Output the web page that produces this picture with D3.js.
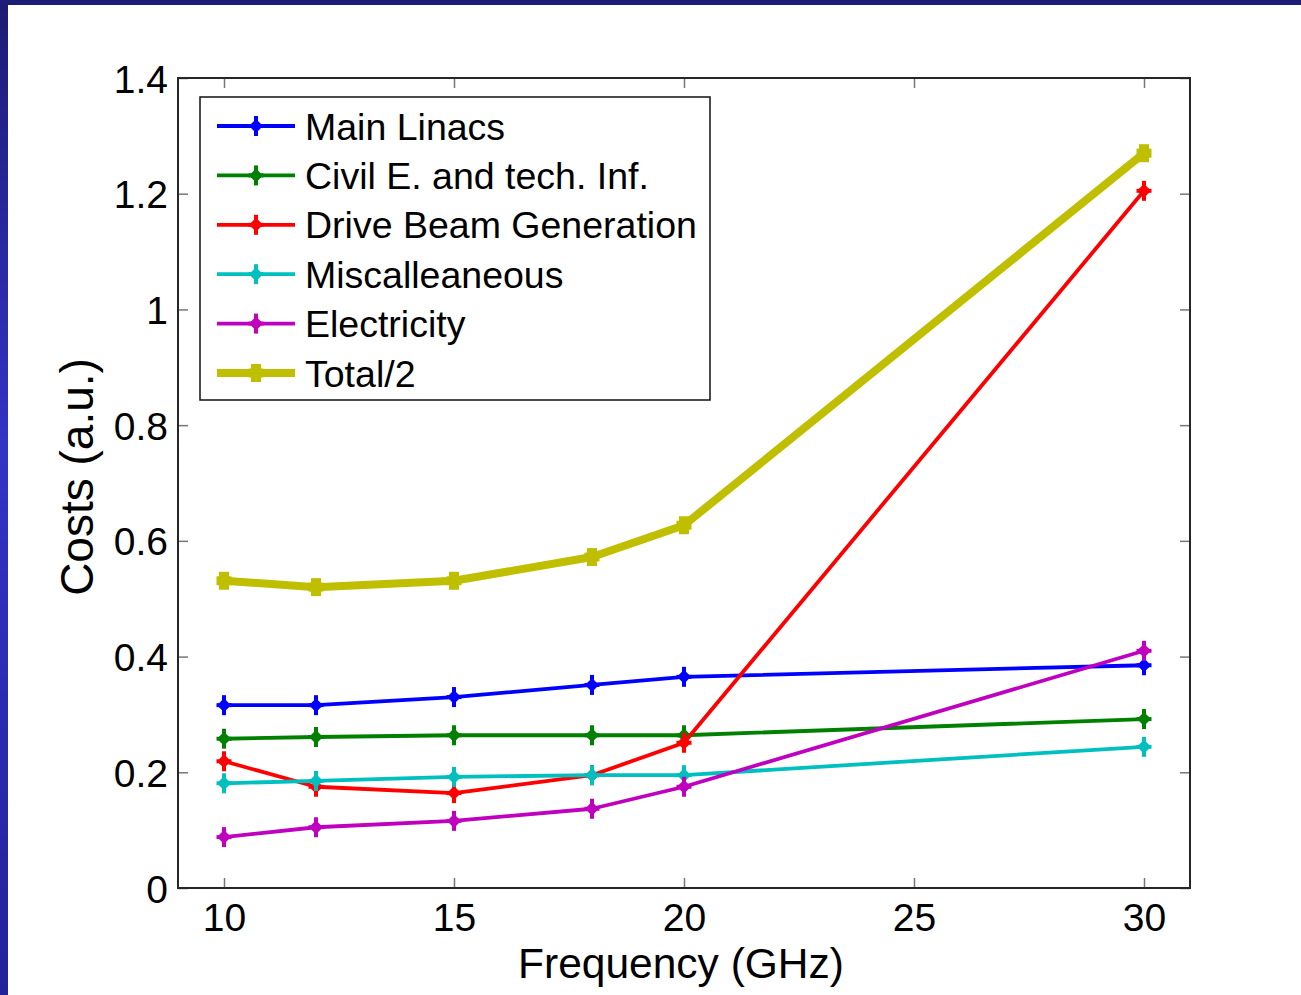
<!DOCTYPE html>
<meta charset="utf-8">
<style>
body { margin: 0; background: #fff; }
svg text { font-family: "Liberation Sans", Arial, sans-serif; fill: #000; }
.axis path.domain { display: none; }
.axis line { stroke: #777; stroke-width: 1.5px; }
.line { fill: none; stroke-linejoin: round; }
</style>
<svg width="1301" height="995"></svg>
<script src="https://cdn.jsdelivr.net/npm/d3@7"></script>
<script>

// data
let freqs = [10, 12, 15, 18, 20, 30];
let seriesNames = ["Main Linacs", "Civil E. and tech. Inf.", "Drive Beam Generation",
                   "Miscalleaneous", "Electricity", "Total/2"];
let mainLinacs  = [0.316, 0.316, 0.330, 0.351, 0.365, 0.385];
let civilEng    = [0.258, 0.261, 0.264, 0.264, 0.264, 0.292];
let driveBeam   = [0.219, 0.175, 0.164, 0.195, 0.251, 1.205];
let misc        = [0.181, 0.185, 0.192, 0.195, 0.195, 0.244];
let electricity = [0.088, 0.105, 0.116, 0.137, 0.175, 0.410];
let totalHalf   = [0.531, 0.520, 0.531, 0.572, 0.627, 1.270];
let xTicks = [10, 15, 20, 25, 30];
let yTicks = [0, 0.2, 0.4, 0.6, 0.8, 1, 1.2, 1.4];
let yTickLabels = ["0", "0.2", "0.4", "0.6", "0.8", "1", "1.2", "1.4"];

let colors = ["#0000ff", "#008000", "#ff0000", "#00bfbf", "#bf00bf", "#bfbf00"];
let widths = [3.8, 3.8, 3.8, 3.8, 3.8, 8];

let seriesValues = [mainLinacs, civilEng, driveBeam, misc, electricity, totalHalf];
let series = seriesNames.map(function(name, i) {
    return {
        id: name, color: colors[i], width: widths[i],
        values: freqs.map(function(f, j) { return {freq: f, cost: seriesValues[i][j]}; })
    };
});

let svg = d3.select("svg"),
    plotL = 178, plotR = 1190, plotT = 78, plotB = 888;

// slide background bands
let defs = svg.append("defs");
let grad = defs.append("linearGradient").attr("id", "band").attr("x1", 0).attr("y1", 0).attr("x2", 0).attr("y2", 1);
grad.append("stop").attr("offset", "0%").attr("stop-color", "#1c1c74");
grad.append("stop").attr("offset", "45%").attr("stop-color", "#3333c6");
grad.append("stop").attr("offset", "100%").attr("stop-color", "#22229a");
svg.append("rect").attr("x", 0).attr("y", 0).attr("width", 8).attr("height", 995).attr("fill", "url(#band)");
svg.append("rect").attr("x", 0).attr("y", 0).attr("width", 1301).attr("height", 5).attr("fill", "#1d1d76");

let x = d3.scaleLinear().domain([9, 31]).range([plotL, plotR]),
    y = d3.scaleLinear().domain([0, 1.4]).range([plotB, plotT]);

// axes, ticks pointing inwards, mirrored on top/right
svg.append("g")
    .attr("class", "axis axis--x")
    .attr("transform", "translate(0," + plotB + ")")
    .call(d3.axisBottom(x).tickValues(xTicks).tickSize(-10).tickPadding(15).tickFormat(d3.format("d")))
    .call(function(g) { g.selectAll("text").style("font-size", "39px").attr("fill", "#000"); });

svg.append("g")
    .attr("class", "axis axis--x2")
    .attr("transform", "translate(0," + plotT + ")")
    .call(d3.axisTop(x).tickValues(xTicks).tickSize(-10).tickFormat(""));

svg.append("g")
    .attr("class", "axis axis--y")
    .attr("transform", "translate(" + plotL + ",0)")
    .call(d3.axisLeft(y).tickValues(yTicks).tickSize(-10).tickPadding(10)
        .tickFormat(function(d, i) { return yTickLabels[i]; }))
    .call(function(g) { g.selectAll("text").style("font-size", "39px").attr("dy", "0.36em").attr("fill", "#000"); });

svg.append("g")
    .attr("class", "axis axis--y2")
    .attr("transform", "translate(" + plotR + ",0)")
    .call(d3.axisRight(y).tickValues(yTicks).tickSize(-10).tickFormat(""));

svg.append("rect")
    .attr("x", plotL).attr("y", plotT)
    .attr("width", plotR - plotL).attr("height", plotB - plotT)
    .attr("fill", "none").attr("stroke", "#262626").attr("stroke-width", 2);

// axis titles
svg.append("text")
    .attr("x", 681).attr("y", 978)
    .attr("text-anchor", "middle")
    .style("font-size", "42.5px")
    .text("Frequency (GHz)");

svg.append("text")
    .attr("transform", "translate(93,477) rotate(-90)")
    .attr("text-anchor", "middle")
    .style("font-size", "46px")
    .text("Costs (a.u.)");

// lines
let line = d3.line()
    .x(function(d) { return x(d.freq); })
    .y(function(d) { return y(d.cost); });

function drawMarker(sel, s) {
    if (s.width > 5) {
        sel.append("rect").attr("x", -7.5).attr("y", -4.5).attr("width", 15).attr("height", 9).attr("fill", s.color);
        sel.append("rect").attr("x", -5).attr("y", -9).attr("width", 10).attr("height", 18).attr("fill", s.color);
    } else {
        sel.append("path").attr("d", "M-7,0L0,-7L7,0L0,7Z").attr("fill", s.color);
        sel.append("line").attr("x1", 0).attr("x2", 0).attr("y1", -10).attr("y2", 10)
            .attr("stroke", s.color).attr("stroke-width", 4);
        sel.append("line").attr("x1", -7.5).attr("x2", 7.5).attr("y1", 0).attr("y2", 0)
            .attr("stroke", s.color).attr("stroke-width", 4);
    }
}

let plot = svg.selectAll(".series")
    .data(series)
    .enter().append("g")
    .attr("class", "series");

plot.append("path")
    .attr("class", "line")
    .attr("d", function(d) { return line(d.values); })
    .style("stroke", function(d) { return d.color; })
    .style("stroke-width", function(d) { return d.width; });

plot.each(function(s) {
    d3.select(this).selectAll(".marker")
        .data(s.values)
        .enter().append("g")
        .attr("class", "marker")
        .attr("transform", function(d) { return "translate(" + x(d.freq) + "," + y(d.cost) + ")"; })
        .each(function() { drawMarker(d3.select(this), s); });
});

// legend
let legend = svg.append("g").attr("class", "legend");
legend.append("rect")
    .attr("x", 200).attr("y", 97).attr("width", 510).attr("height", 303)
    .attr("fill", "#fff").attr("stroke", "#111").attr("stroke-width", 1.5);

let item = legend.selectAll(".item")
    .data(series)
    .enter().append("g")
    .attr("class", "item")
    .attr("transform", function(d, i) { return "translate(0," + (126 + i * 49.4) + ")"; });

item.append("line")
    .attr("x1", 217).attr("x2", 295).attr("y1", 0).attr("y2", 0)
    .attr("stroke", function(d) { return d.color; })
    .attr("stroke-width", function(d) { return d.width; });

item.append("g")
    .attr("transform", "translate(256,0)")
    .each(function(d) { drawMarker(d3.select(this), d); });

item.append("text")
    .attr("x", 305).attr("y", 0).attr("dy", "0.36em")
    .style("font-size", "37.5px")
    .text(function(d) { return d.id; });

</script>
